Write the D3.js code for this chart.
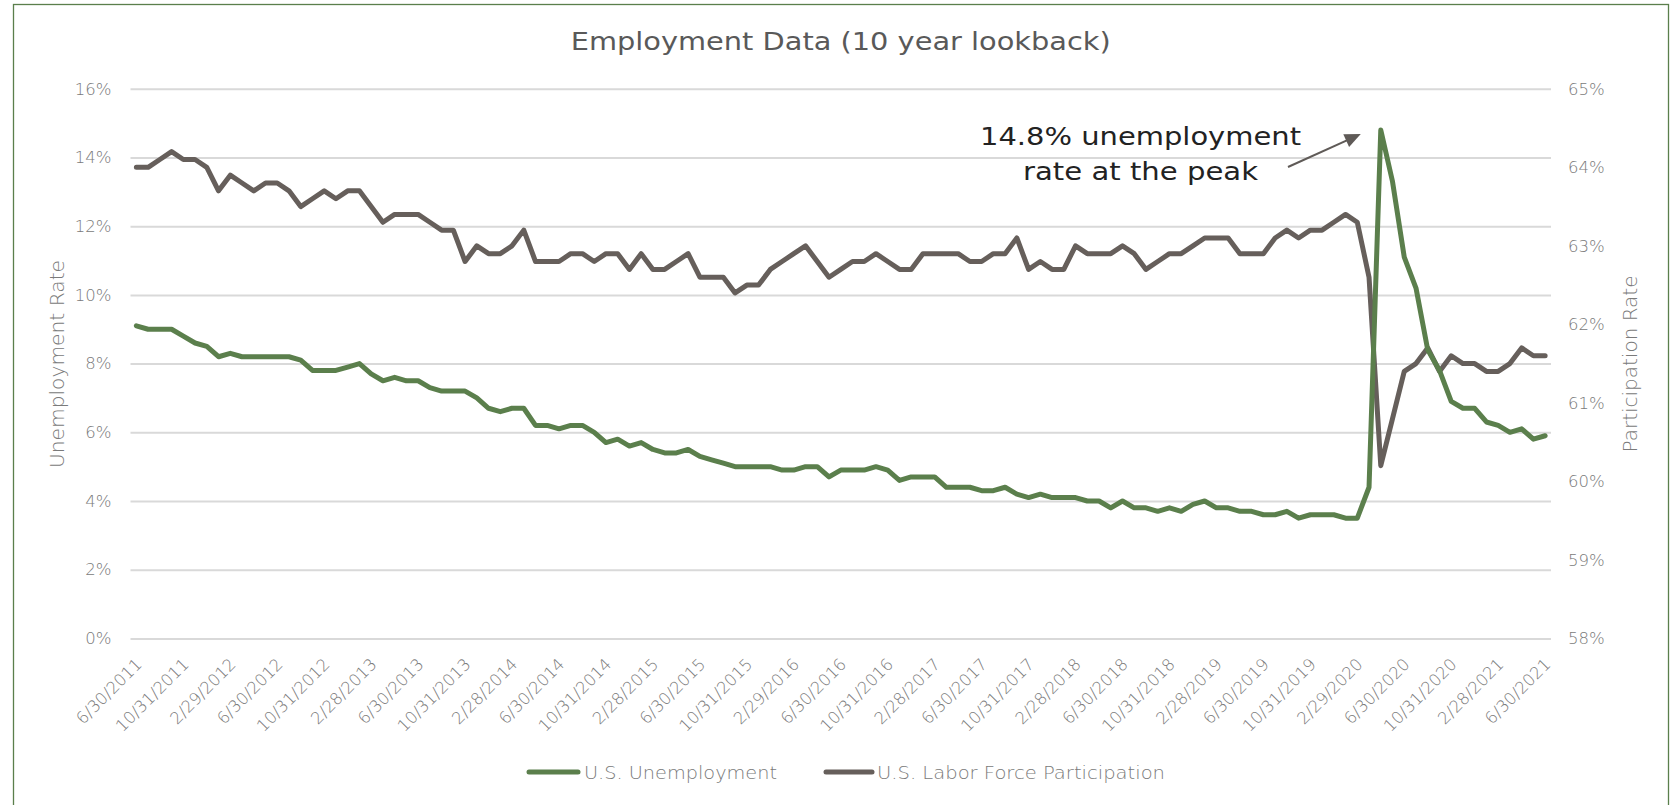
<!DOCTYPE html>
<html><head><meta charset="utf-8">
<script src="https://cdn.jsdelivr.net/npm/d3@7"></script>
<style>body{margin:0;background:#fff}svg{display:block}</style>
</head><body>
<svg id="chart" width="1680" height="805"></svg>
<script>
// ---------- data ----------
const chartTitle = "Employment Data (10 year lookback)";
const seriesNames = ["U.S. Unemployment", "U.S. Labor Force Participation"];
const axisTitles = ["Unemployment Rate", "Participation Rate"];
const annotationLines = ["14.8% unemployment", "rate at the peak"];
const annotationIndex = 106; // Apr 2020 peak

// monthly, June 2011 .. June 2021
const unemployment = [
  9.1, 9.0, 9.0, 9.0, 8.8, 8.6, 8.5, 8.2, 8.3, 8.2,
  8.2, 8.2, 8.2, 8.2, 8.1, 7.8, 7.8, 7.8, 7.9, 8.0,
  7.7, 7.5, 7.6, 7.5, 7.5, 7.3, 7.2, 7.2, 7.2, 7.0,
  6.7, 6.6, 6.7, 6.7, 6.2, 6.2, 6.1, 6.2, 6.2, 6.0,
  5.7, 5.8, 5.6, 5.7, 5.5, 5.4, 5.4, 5.5, 5.3, 5.2,
  5.1, 5.0, 5.0, 5.0, 5.0, 4.9, 4.9, 5.0, 5.0, 4.7,
  4.9, 4.9, 4.9, 5.0, 4.9, 4.6, 4.7, 4.7, 4.7, 4.4,
  4.4, 4.4, 4.3, 4.3, 4.4, 4.2, 4.1, 4.2, 4.1, 4.1,
  4.1, 4.0, 4.0, 3.8, 4.0, 3.8, 3.8, 3.7, 3.8, 3.7,
  3.9, 4.0, 3.8, 3.8, 3.7, 3.7, 3.6, 3.6, 3.7, 3.5,
  3.6, 3.6, 3.6, 3.5, 3.5, 4.4, 14.8, 13.3, 11.1, 10.2,
  8.4, 7.8, 6.9, 6.7, 6.7, 6.3, 6.2, 6.0, 6.1, 5.8, 5.9
];
const participation = [
  64.0, 64.0, 64.1, 64.2, 64.1, 64.1, 64.0, 63.7, 63.9, 63.8,
  63.7, 63.8, 63.8, 63.7, 63.5, 63.6, 63.7, 63.6, 63.7, 63.7,
  63.5, 63.3, 63.4, 63.4, 63.4, 63.3, 63.2, 63.2, 62.8, 63.0,
  62.9, 62.9, 63.0, 63.2, 62.8, 62.8, 62.8, 62.9, 62.9, 62.8,
  62.9, 62.9, 62.7, 62.9, 62.7, 62.7, 62.8, 62.9, 62.6, 62.6,
  62.6, 62.4, 62.5, 62.5, 62.7, 62.8, 62.9, 63.0, 62.8, 62.6,
  62.7, 62.8, 62.8, 62.9, 62.8, 62.7, 62.7, 62.9, 62.9, 62.9,
  62.9, 62.8, 62.8, 62.9, 62.9, 63.1, 62.7, 62.8, 62.7, 62.7,
  63.0, 62.9, 62.9, 62.9, 63.0, 62.9, 62.7, 62.8, 62.9, 62.9,
  63.0, 63.1, 63.1, 63.1, 62.9, 62.9, 62.9, 63.1, 63.2, 63.1,
  63.2, 63.2, 63.3, 63.4, 63.3, 62.6, 60.2, 60.8, 61.4, 61.5,
  61.7, 61.4, 61.6, 61.5, 61.5, 61.4, 61.4, 61.5, 61.7, 61.6, 61.6
];
const leftTicks = [0, 2, 4, 6, 8, 10, 12, 14, 16];
const rightTicks = [58, 59, 60, 61, 62, 63, 64, 65];
const tickLabels = [
  "6/30/2011","10/31/2011","2/29/2012","6/30/2012","10/31/2012","2/28/2013",
  "6/30/2013","10/31/2013","2/28/2014","6/30/2014","10/31/2014","2/28/2015",
  "6/30/2015","10/31/2015","2/29/2016","6/30/2016","10/31/2016","2/28/2017",
  "6/30/2017","10/31/2017","2/28/2018","6/30/2018","10/31/2018","2/28/2019",
  "6/30/2019","10/31/2019","2/29/2020","6/30/2020","10/31/2020","2/28/2021","6/30/2021"
];
// month-end category labels (calendar, June 2011 onward)
const fmtDate = d3.timeFormat("%-m/%-d/%Y");
const categories = unemployment.map((_, i) => fmtDate(new Date(2011, 6 + i, 0)));

// ---------- styling ----------
const COL_GREEN = "#5b7f4c", COL_GREY = "#665f5b", COL_GRID = "#d9d9d9", COL_TXT = "#7a7a7a";
const FONT = "'DejaVu Sans', sans-serif";
const L = 130.5, R = 1551, T = 88.8, B = 638.4;

const svg = d3.select("#chart").style("font-family", FONT);
svg.append("rect").attr("x", 13.5).attr("y", 4.5).attr("width", 1655).attr("height", 810)
  .attr("fill", "#fff").attr("stroke", "#5b7f4c").attr("stroke-width", 1.3);

const x = d3.scalePoint().domain(categories).range([L, R]).padding(0.5);
const yL = d3.scaleLinear().domain([0, 16]).range([B, T]);
const yR = d3.scaleLinear().domain([58, 65]).range([B, T]);

// left axis + gridlines
const gL = svg.append("g").attr("transform", `translate(${L},0)`)
  .call(d3.axisLeft(yL).tickValues(leftTicks).tickSize(-(R - L)).tickPadding(19).tickFormat(d => d + "%"));
gL.select(".domain").remove();
gL.selectAll(".tick line").attr("stroke", COL_GRID).attr("stroke-width", 2);
gL.selectAll(".tick text").attr("fill", COL_TXT).style("font-size", "16.5px").style("font-family", FONT).style("font-weight", 300);

// right axis
const gR = svg.append("g").attr("transform", `translate(${R},0)`)
  .call(d3.axisRight(yR).tickValues(rightTicks).tickSize(0).tickPadding(17).tickFormat(d => d + "%"));
gR.select(".domain").remove();
gR.selectAll(".tick text").attr("fill", COL_TXT).style("font-size", "16.5px").style("font-family", FONT).style("font-weight", 300);

// bottom axis
const gB = svg.append("g").attr("transform", `translate(0,${B})`)
  .call(d3.axisBottom(x).tickValues(tickLabels).tickSize(0));
gB.select(".domain").remove();
gB.selectAll(".tick text").attr("fill", COL_TXT).style("font-size", "16.5px").style("font-family", FONT).style("font-weight", 300)
  .attr("y", 0).attr("dy", 0).attr("text-anchor", "end")
  .attr("transform", "translate(6,27) rotate(-45)");

// axis titles
svg.append("text").attr("transform", "translate(64,364) rotate(-90)").attr("text-anchor", "middle")
  .attr("fill", COL_TXT).style("font-size", "19px").style("font-weight", 300)
  .attr("textLength", 208).attr("lengthAdjust", "spacingAndGlyphs").text(axisTitles[0]);
svg.append("text").attr("transform", "translate(1637,364) rotate(-90)").attr("text-anchor", "middle")
  .attr("fill", COL_TXT).style("font-size", "19px").style("font-weight", 300)
  .attr("textLength", 177).attr("lengthAdjust", "spacingAndGlyphs").text(axisTitles[1]);

// title
svg.append("text").attr("x", (L + R) / 2).attr("y", 50).attr("text-anchor", "middle")
  .attr("fill", "#595959").style("font-size", "24px")
  .attr("textLength", 540).attr("lengthAdjust", "spacingAndGlyphs").text(chartTitle);

// lines
const lineL = d3.line().x((d, i) => x(categories[i])).y(d => yL(d));
const lineR = d3.line().x((d, i) => x(categories[i])).y(d => yR(d));
svg.append("path").datum(participation).attr("d", lineR).attr("fill", "none")
  .attr("stroke", COL_GREY).attr("stroke-width", 5).attr("stroke-linejoin", "round").attr("stroke-linecap", "round");
svg.append("path").datum(unemployment).attr("d", lineL).attr("fill", "none")
  .attr("stroke", COL_GREEN).attr("stroke-width", 5).attr("stroke-linejoin", "round").attr("stroke-linecap", "round");

// annotation
const ann = svg.append("g");
annotationLines.forEach((t, k) => {
  ann.append("text").attr("x", 1140.5).attr("y", 145 + k * 35).attr("text-anchor", "middle")
    .attr("fill", "#222").style("font-size", "25px")
    .attr("textLength", k === 0 ? 321 : 235).attr("lengthAdjust", "spacingAndGlyphs").text(t);
});
const px = x(categories[annotationIndex]), py = yL(unemployment[annotationIndex]);
const tipX = px - 20, tipY = py + 4, tailX = 1288, tailY = 167;
const ang = Math.atan2(tipY - tailY, tipX - tailX);
const hl = 16, hw = 7;
ann.append("line").attr("x1", tailX).attr("y1", tailY)
  .attr("x2", tipX - Math.cos(ang) * hl * 0.8).attr("y2", tipY - Math.sin(ang) * hl * 0.8)
  .attr("stroke", "#5f5a57").attr("stroke-width", 2);
const bx = tipX - Math.cos(ang) * hl, by = tipY - Math.sin(ang) * hl;
ann.append("path").attr("d", `M${tipX},${tipY}L${bx + Math.sin(ang) * hw},${by - Math.cos(ang) * hw}L${bx - Math.sin(ang) * hw},${by + Math.cos(ang) * hw}Z`)
  .attr("fill", "#5f5a57");

// legend
const legend = [
  { name: seriesNames[0], color: COL_GREEN, x1: 529, x2: 578, tx: 584, tl: 193 },
  { name: seriesNames[1], color: COL_GREY, x1: 826, x2: 872, tx: 877, tl: 288 }
];
const lg = svg.append("g").selectAll("g").data(legend).join("g");
lg.append("line").attr("x1", d => d.x1).attr("x2", d => d.x2).attr("y1", 772).attr("y2", 772)
  .attr("stroke", d => d.color).attr("stroke-width", 5).attr("stroke-linecap", "round");
lg.append("text").attr("x", d => d.tx).attr("y", 778.5).attr("fill", COL_TXT)
  .style("font-size", "18px").style("font-weight", 300)
  .attr("textLength", d => d.tl).attr("lengthAdjust", "spacingAndGlyphs").text(d => d.name);
</script>
</body></html>
